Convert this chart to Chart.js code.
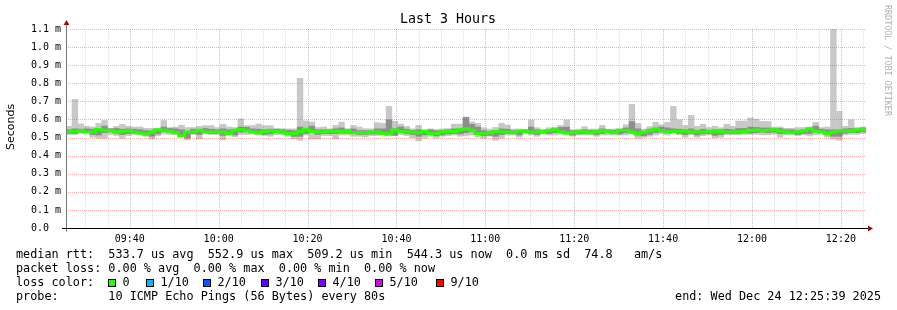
<!DOCTYPE html>
<html lang="en">
<head>
<meta charset="UTF-8">
<title>Last 3 Hours</title>
<script src="https://cdn.jsdelivr.net/npm/chart.js@4"></script>
<style>
  html, body { margin: 0; padding: 0; background: #ffffff; }
  canvas { display: block; }
</style>
</head>
<body>
<canvas id="grafico" width="897" height="310"></canvas>
<script>
// values, in ms, one column every 80 s starting at 09:25:39
var startTime = '09:25:39';
var stepSeconds = 80;

var median = [
  0.530,0.530,0.535,0.537,0.530,0.530,0.545,0.540,0.538,0.530,0.535,0.537,0.530,0.525,0.520,0.530,0.543,0.540,0.535,0.527,0.510,0.530,0.530,0.540,0.530,0.530,0.530,0.530,0.523,0.540,0.545,0.537,0.530,0.525,
  0.532,0.537,0.533,0.530,0.523,0.523,0.533,0.546,0.533,0.530,0.532,0.535,0.535,0.533,0.533,0.527,0.527,0.527,0.530,0.530,0.523,0.520,0.542,0.533,0.532,0.530,0.527,0.533,0.523,0.523,0.530,0.535,0.533,0.543,
  0.549,0.540,0.523,0.521,0.527,0.534,0.532,0.530,0.527,0.536,0.534,0.530,0.530,0.534,0.538,0.543,0.530,0.525,0.527,0.532,0.532,0.527,0.532,0.538,0.532,0.527,0.540,0.540,0.530,0.521,0.530,0.538,0.545,0.538,
  0.530,0.533,0.535,0.533,0.530,0.532,0.530,0.532,0.535,0.533,0.530,0.530,0.532,0.533,0.540,0.542,0.538,0.540,0.543,0.536,0.532,0.526,0.532,0.536,0.548,0.535,0.530,0.522,0.530,0.538,0.538,0.536,0.543
];

var smokeMax = [
  0.564,0.713,0.577,0.564,0.560,0.580,0.596,0.553,0.564,0.575,0.564,0.560,0.560,0.553,0.553,0.553,0.596,0.557,0.560,0.570,0.557,0.557,0.564,0.568,0.568,0.557,0.575,0.560,0.557,0.605,0.568,0.568,0.577,0.568,
  0.567,0.551,0.551,0.550,0.550,0.829,0.594,0.588,0.557,0.560,0.550,0.569,0.587,0.551,0.569,0.560,0.551,0.550,0.584,0.580,0.674,0.592,0.576,0.564,0.550,0.569,0.546,0.550,0.546,0.550,0.551,0.576,0.576,0.615,
  0.588,0.580,0.556,0.549,0.558,0.580,0.571,0.549,0.549,0.545,0.599,0.556,0.547,0.556,0.560,0.569,0.599,0.545,0.549,0.562,0.549,0.549,0.569,0.545,0.549,0.551,0.573,0.685,0.580,0.549,0.562,0.586,0.573,0.586,
  0.674,0.600,0.569,0.625,0.564,0.575,0.557,0.564,0.556,0.575,0.564,0.593,0.593,0.610,0.604,0.591,0.591,0.560,0.560,0.553,0.553,0.557,0.557,0.560,0.586,0.557,0.560,1.105,0.647,0.564,0.600,0.557,0.560
];

var smokeMin = [
  0.515,0.515,0.523,0.523,0.500,0.495,0.495,0.515,0.509,0.495,0.509,0.515,0.515,0.505,0.490,0.509,0.518,0.515,0.515,0.515,0.485,0.515,0.490,0.520,0.515,0.515,0.485,0.515,0.503,0.515,0.515,0.518,0.515,0.510,
  0.505,0.514,0.514,0.505,0.490,0.483,0.512,0.490,0.490,0.509,0.509,0.490,0.512,0.512,0.505,0.505,0.502,0.509,0.509,0.512,0.509,0.509,0.514,0.509,0.496,0.480,0.496,0.505,0.496,0.505,0.509,0.512,0.505,0.509,
  0.512,0.501,0.494,0.505,0.483,0.494,0.512,0.512,0.500,0.518,0.512,0.505,0.518,0.512,0.512,0.518,0.512,0.505,0.512,0.512,0.512,0.505,0.512,0.512,0.512,0.512,0.512,0.518,0.494,0.500,0.505,0.512,0.518,0.512,
  0.524,0.513,0.500,0.513,0.500,0.509,0.513,0.497,0.500,0.513,0.513,0.513,0.516,0.516,0.516,0.513,0.513,0.516,0.500,0.513,0.516,0.509,0.513,0.509,0.513,0.516,0.500,0.490,0.483,0.513,0.516,0.516,0.520
];

// darker inner part of the smoke
var smokeHigh = [
  0.545,0.550,0.548,0.550,0.548,0.550,0.565,0.550,0.552,0.548,0.550,0.548,0.545,0.540,0.538,0.545,0.560,0.552,0.550,0.545,0.530,0.548,0.545,0.552,0.548,0.545,0.550,0.545,0.540,0.560,0.558,0.550,0.548,0.545,
  0.548,0.548,0.545,0.542,0.540,0.560,0.548,0.565,0.545,0.545,0.545,0.550,0.555,0.545,0.550,0.540,0.540,0.540,0.550,0.550,0.600,0.550,0.560,0.548,0.542,0.545,0.540,0.545,0.540,0.540,0.545,0.550,0.550,0.613,
  0.575,0.560,0.540,0.535,0.540,0.550,0.548,0.540,0.540,0.545,0.560,0.545,0.540,0.545,0.550,0.558,0.560,0.540,0.540,0.545,0.542,0.540,0.550,0.545,0.542,0.542,0.555,0.590,0.550,0.535,0.548,0.555,0.560,0.555,
  0.550,0.548,0.545,0.550,0.542,0.548,0.542,0.545,0.545,0.548,0.545,0.552,0.552,0.560,0.558,0.555,0.555,0.550,0.552,0.545,0.545,0.540,0.545,0.548,0.565,0.548,0.545,0.545,0.545,0.550,0.552,0.548,0.555
];
var smokeLow = [
  0.520,0.520,0.527,0.527,0.515,0.512,0.525,0.530,0.522,0.515,0.520,0.522,0.520,0.512,0.505,0.518,0.530,0.528,0.522,0.515,0.495,0.520,0.515,0.528,0.520,0.520,0.510,0.520,0.512,0.528,0.530,0.525,0.520,0.515,
  0.518,0.525,0.522,0.515,0.505,0.505,0.520,0.530,0.515,0.520,0.520,0.520,0.522,0.522,0.520,0.515,0.515,0.518,0.518,0.520,0.515,0.510,0.528,0.520,0.515,0.505,0.512,0.520,0.508,0.512,0.518,0.520,0.518,0.525,
  0.530,0.522,0.508,0.510,0.505,0.515,0.520,0.520,0.512,0.525,0.520,0.515,0.522,0.520,0.525,0.530,0.520,0.512,0.518,0.520,0.520,0.515,0.520,0.525,0.520,0.518,0.525,0.528,0.512,0.508,0.515,0.525,0.530,0.525,
  0.526,0.520,0.515,0.520,0.512,0.518,0.520,0.510,0.515,0.520,0.520,0.520,0.522,0.522,0.525,0.528,0.525,0.528,0.520,0.522,0.522,0.515,0.520,0.520,0.530,0.525,0.512,0.505,0.505,0.522,0.525,0.525,0.530
];

var xTickLabels = ['09:40', '10:00', '10:20', '10:40', '11:00', '11:20', '11:40', '12:00', '12:20'];
var yTickLabels = ['0.0', '0.1 m', '0.2 m', '0.3 m', '0.4 m', '0.5 m', '0.6 m', '0.7 m', '0.8 m', '0.9 m', '1.0 m', '1.1 m'];

var lossColors = ['#26ff00', '#00b8ff', '#0059ff', '#5e00ff', '#7e00ff', '#dd00ff', '#ff0000'];
var lossNames = ['0', '1/10', '2/10', '3/10', '4/10', '5/10', '9/10'];

var mono = '"DejaVu Sans Mono", monospace';

function toSeconds(txt) {
    var p = txt.split(':');
    return (+p[0]) * 3600 + (+p[1]) * 60 + (+(p[2] || 0));
}
function two(n) { return (n < 10 ? '0' : '') + n; }

var t0 = toSeconds(startTime);
var span = median.length * stepSeconds;

function clock(v) {
    var s = Math.round(v + t0);
    return two(Math.floor(s / 3600)) + ':' + two(Math.floor((s % 3600) / 60));
}

// build the chart data from the arrays
var outerData = [], innerData = [], lineData = [];
for (var i = 0; i < median.length; i++) {
    outerData.push({ x: (i + 0.5) * stepSeconds, y: [smokeMin[i], smokeMax[i]] });
    innerData.push({ x: (i + 0.5) * stepSeconds, y: [smokeLow[i], smokeHigh[i]] });
    lineData.push({ x: i * stepSeconds, y: median[i] });
}
lineData.push({ x: span, y: median[median.length - 1] });

// dotted rrdtool grid, drawn over the smoke and under the median line
var dottedGrid = {
    id: 'dottedGrid',
    beforeDatasetDraw: function (chart, args) {
        if (args.index !== 0) return;
        var ctx = chart.ctx;
        var area = chart.chartArea;
        ctx.save();
        ctx.lineWidth = 1;
        ctx.setLineDash([1, 1]);
        chart.scales.x.ticks.forEach(function (t) {
            var px = Math.round(chart.scales.x.getPixelForValue(t.value)) + 0.5;
            var major = xTickLabels.indexOf(clock(t.value)) >= 0;
            ctx.strokeStyle = major ? 'rgba(255,60,60,0.42)' : 'rgba(0,0,0,0.12)';
            ctx.beginPath();
            ctx.moveTo(px, area.top);
            ctx.lineTo(px, area.bottom);
            ctx.stroke();
        });
        chart.scales.y.ticks.forEach(function (t) {
            if (t.value <= 0) return;
            var py = Math.round(chart.scales.y.getPixelForValue(t.value)) + 0.5;
            ctx.strokeStyle = 'rgba(255,60,60,0.42)';
            ctx.beginPath();
            ctx.moveTo(area.left, py);
            ctx.lineTo(area.right, py);
            ctx.stroke();
        });
        ctx.restore();
    }
};

// texts and axes that rrdtool draws around the graph
var decor = {
    id: 'decor',
    afterDraw: function (chart) {
        var ctx = chart.ctx;
        var area = chart.chartArea;
        var y0 = Math.round(chart.scales.y.getPixelForValue(0)) + 0.5;
        var xl = Math.round(area.left) + 0.5;
        ctx.save();

        // axes
        ctx.lineWidth = 1;
        ctx.strokeStyle = '#777777';
        ctx.beginPath();
        ctx.moveTo(xl, y0 + 3);
        ctx.lineTo(xl, area.top - 6);
        ctx.stroke();
        ctx.strokeStyle = '#000000';
        ctx.beginPath();
        ctx.moveTo(area.left - 4, y0);
        ctx.lineTo(area.right + 2, y0);
        ctx.stroke();

        ctx.fillStyle = '#9a1010';
        ctx.beginPath();
        ctx.moveTo(area.right + 2, y0 - 3);
        ctx.lineTo(area.right + 7, y0);
        ctx.lineTo(area.right + 2, y0 + 3);
        ctx.fill();
        ctx.beginPath();
        ctx.moveTo(xl - 3, area.top - 4);
        ctx.lineTo(xl, area.top - 9);
        ctx.lineTo(xl + 3, area.top - 4);
        ctx.fill();

        // title
        ctx.fillStyle = '#000000';
        ctx.textBaseline = 'middle';
        ctx.textAlign = 'center';
        ctx.font = '13.3px ' + mono;
        ctx.fillText('Last 3 Hours', 448, 20);

        // y axis title
        ctx.save();
        ctx.translate(11, 127);
        ctx.rotate(-Math.PI / 2);
        ctx.font = '11px "DejaVu Sans", sans-serif';
        ctx.fillText('Seconds', 0, 0);
        ctx.restore();

        // credit on the right side
        ctx.save();
        ctx.translate(887.5, 5);
        ctx.rotate(Math.PI / 2);
        ctx.textAlign = 'left';
        ctx.fillStyle = '#b0b0b0';
        ctx.font = '8.4px ' + mono;
        ctx.fillText('RRDTOOL / TOBI OETIKER', 0, 0);
        ctx.restore();

        // legend lines
        ctx.textAlign = 'left';
        ctx.font = '11.8px ' + mono;
        ctx.fillText('median rtt:  533.7 us avg  552.9 us max  509.2 us min  544.3 us now  0.0 ms sd  74.8   am/s', 16, 254.5);
        ctx.fillText('packet loss: 0.00 % avg  0.00 % max  0.00 % min  0.00 % now', 16, 268.5);
        ctx.fillText('loss color:', 16, 282.5);
        ctx.fillText('probe:       10 ICMP Echo Pings (56 Bytes) every 80s', 16, 296.5);
        ctx.textAlign = 'right';
        ctx.fillText('end: Wed Dec 24 12:25:39 2025', 881, 296.5);

        var boxX = [108, 146, 203, 261, 318, 375, 436];
        ctx.textAlign = 'left';
        for (var k = 0; k < lossNames.length; k++) {
            ctx.fillStyle = lossColors[k];
            ctx.fillRect(boxX[k], 279, 8, 8);
            ctx.strokeStyle = '#000000';
            ctx.strokeRect(boxX[k] + 0.5, 279.5, 7, 7);
            ctx.fillStyle = '#000000';
            ctx.fillText(lossNames[k], boxX[k] + 14.5, 282.5);
        }
        ctx.restore();
    }
};

var config = {
    data: {
        datasets: [
            {
                type: 'line',
                label: 'median rtt',
                data: lineData,
                stepped: 'after',
                borderColor: '#26ff00',
                borderWidth: 3,
                pointRadius: 0,
                fill: false,
                order: 0
            },
            {
                type: 'bar',
                label: 'smoke inner',
                data: innerData,
                backgroundColor: '#8e8e8e',
                borderWidth: 0,
                grouped: false,
                barPercentage: 1,
                categoryPercentage: 1.08,
                order: 1
            },
            {
                type: 'bar',
                label: 'smoke',
                data: outerData,
                backgroundColor: '#c8c8c8',
                borderWidth: 0,
                grouped: false,
                barPercentage: 1,
                categoryPercentage: 1.08,
                order: 2
            }
        ]
    },
    options: {
        responsive: false,
        animation: false,
        devicePixelRatio: 1,
        layout: { padding: { left: 31, right: 31, top: 29, bottom: 0 } },
        plugins: { legend: { display: false }, tooltip: { enabled: false }, title: { display: false } },
        scales: {
            x: {
                type: 'linear',
                min: 0,
                max: span,
                offset: false,
                afterFit: function (s) { s.height = 82; },
                afterBuildTicks: function (s) {
                    var ticks = [];
                    var first = Math.ceil(t0 / 300) * 300 - t0;
                    for (var t = first; t <= span; t += 300) ticks.push({ value: t });
                    s.ticks = ticks;
                },
                border: { display: false },
                grid: { display: false, offset: false },
                ticks: {
                    autoSkip: false,
                    maxRotation: 0,
                    padding: -3,
                    color: '#000000',
                    font: { family: mono, size: 10 },
                    callback: function (v) {
                        var lbl = clock(v);
                        return xTickLabels.indexOf(lbl) >= 0 ? lbl : '';
                    }
                }
            },
            y: {
                type: 'linear',
                min: 0,
                max: 1.1,
                afterFit: function (s) { s.width = 35; },
                afterBuildTicks: function (s) {
                    s.ticks = yTickLabels.map(function (l) { return { value: parseFloat(l) }; });
                },
                border: { display: false },
                grid: { display: false },
                ticks: {
                    crossAlign: 'far',
                    color: '#000000',
                    font: { family: mono, size: 10 },
                    callback: function (v, idx) { return yTickLabels[idx]; }
                }
            }
        }
    },
    plugins: [dottedGrid, decor]
};

var grafico = new Chart(document.getElementById('grafico'), config);
</script>
</body>
</html>
